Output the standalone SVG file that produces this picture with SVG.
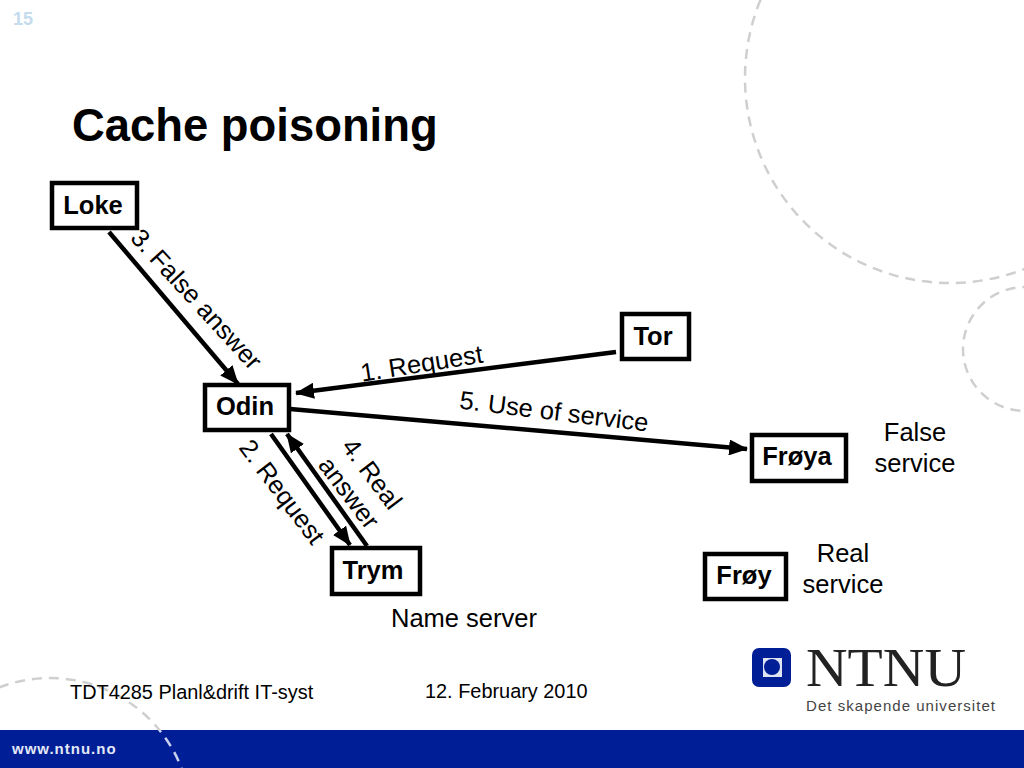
<svg xmlns="http://www.w3.org/2000/svg" width="1024" height="768" viewBox="0 0 1024 768">
<style>
text{font-family:"Liberation Sans",Arial,sans-serif;fill:#000}
.b{fill:#fff;stroke:#000;stroke-width:4.5}
.n{font-size:25.5px;font-weight:bold;text-anchor:middle}
.l{font-size:25.5px;text-anchor:middle}
.c{stroke:#000;stroke-width:4.5;fill:none}
.d{fill:none;stroke:#cfcfcf;stroke-width:2.5;stroke-dasharray:10 7}
</style>
<defs>
<marker id="a" markerUnits="userSpaceOnUse" markerWidth="20" markerHeight="16" refX="18" refY="8" orient="auto"><path d="M0 0L19 8L0 16Z" fill="#000"/></marker>
<clipPath id="top"><rect width="1024" height="730"/></clipPath>
<clipPath id="bot"><rect y="730" width="1024" height="38"/></clipPath>
</defs>
<rect width="1024" height="768" fill="#fff"/>
<g id="background">
<circle class="d" cx="950" cy="78" r="205"/>
<circle class="d" cx="1025" cy="349" r="62"/>
<circle class="d" cx="50" cy="819" r="141" clip-path="url(#top)"/>
<rect y="730" width="1024" height="38" fill="#001f97"/>
<circle cx="50" cy="819" r="141" fill="none" stroke="#c8d0ee" stroke-width="2.5" stroke-dasharray="10 7" clip-path="url(#bot)"/>
<text x="12" y="754" style="fill:#e4e8f6;font-size:15px;font-weight:bold;letter-spacing:1px">www.ntnu.no</text>
<text x="13" y="25" style="fill:#c4dcee;font-size:18px;font-weight:bold">15</text>
</g>
<text id="title" x="72" y="141" style="font-size:45.4px;font-weight:bold">Cache poisoning</text>
<g id="connectors">
<line class="c" x1="109" y1="232" x2="238" y2="384" marker-end="url(#a)"/>
<line class="c" x1="616" y1="352" x2="296" y2="393" marker-end="url(#a)"/>
<line class="c" x1="290" y1="409" x2="747" y2="449" marker-end="url(#a)"/>
<line class="c" x1="271" y1="434" x2="350" y2="545" marker-end="url(#a)"/>
<line class="c" x1="367" y1="546" x2="287" y2="434" marker-end="url(#a)"/>
</g>
<g id="connector-labels">
<text class="l" transform="translate(190 305) rotate(47.5)">3. False answer</text>
<text class="l" transform="translate(423 372) rotate(-9)">1. Request</text>
<text class="l" transform="translate(553 420) rotate(7)">5. Use of service</text>
<text class="l" transform="translate(275 497) rotate(53)">2. Request</text>
<text class="l" transform="translate(365 479) rotate(53)">4. Real</text>
<text class="l" transform="translate(342 498) rotate(53)">answer</text>
</g>
<g id="loke"><rect class="b" x="52" y="183" width="85" height="45"/><text class="n" x="93" y="214">Loke</text></g>
<g id="tor"><rect class="b" x="622" y="314" width="67" height="45"/><text class="n" x="653" y="345">Tor</text></g>
<g id="odin"><rect class="b" x="205" y="385" width="84" height="45"/><text class="n" x="245" y="415">Odin</text></g>
<g id="froya"><rect class="b" x="752" y="435" width="94" height="46"/><text class="n" x="797" y="465">Frøya</text></g>
<g id="trym"><rect class="b" x="332" y="548" width="88" height="46"/><text class="n" x="373" y="579">Trym</text></g>
<g id="froy"><rect class="b" x="705" y="554" width="81" height="45"/><text class="n" x="744" y="584">Frøy</text></g>
<g id="annotations">
<text class="l" x="915" y="441">False</text>
<text class="l" x="915" y="472">service</text>
<text class="l" x="843" y="562">Real</text>
<text class="l" x="843" y="593">service</text>
<text class="l" x="464" y="627">Name server</text>
</g>
<text x="70" y="699" style="font-size:19.9px">TDT4285 Planl&amp;drift IT-syst</text>
<text x="425" y="698" style="font-size:19.9px">12. February 2010</text>
<g id="logo">
<rect x="752" y="648" width="39" height="39" rx="7" fill="#001f97"/>
<rect x="763" y="658" width="19" height="19" fill="#dfe4f2"/>
<circle cx="772" cy="667" r="8" fill="#001f97"/>
<text x="806" y="686" style="font-family:'Liberation Serif',serif;font-size:55px;fill:#222" textLength="160" lengthAdjust="spacingAndGlyphs">NTNU</text>
<text x="806" y="711" style="font-size:15px;fill:#444" textLength="189" lengthAdjust="spacing">Det skapende universitet</text>
</g>
</svg>
